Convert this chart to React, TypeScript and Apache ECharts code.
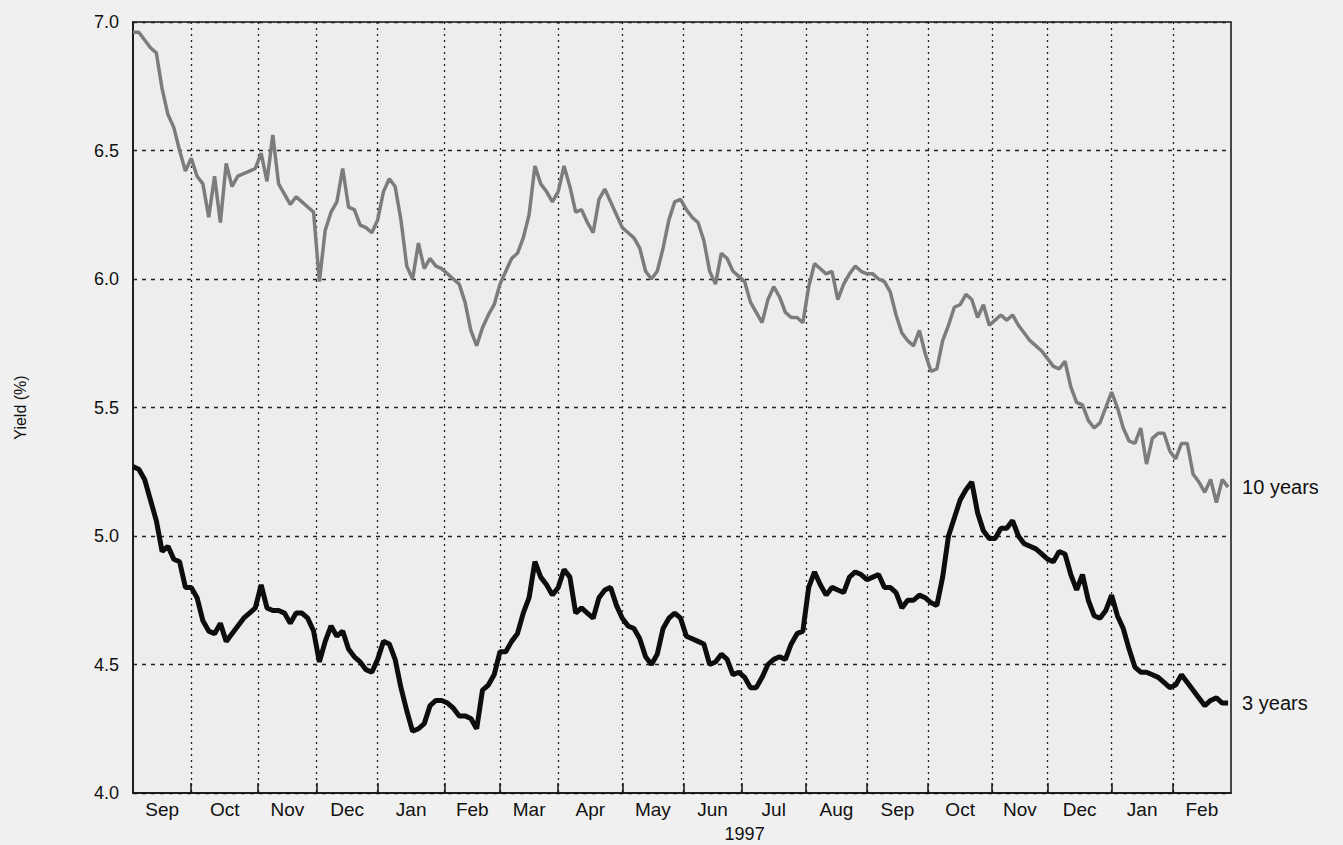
import React, { useEffect, useRef } from "react";
import * as echarts from "echarts";

// x axis unit: trading days since the start of the chart (early Sep 1996)
const SAMPLE_STEP = 2;
const X_MIN = 0;
const X_MAX = 377;

// first trading day of each month (Oct 1996 ... Feb 1998)
const monthStarts = [20, 43, 63, 84, 107, 126, 146, 168, 189, 209, 231, 252, 273, 295, 314, 336, 357];
const monthNames = ["Sep", "Oct", "Nov", "Dec", "Jan", "Feb", "Mar", "Apr", "May", "Jun", "Jul", "Aug", "Sep", "Oct", "Nov", "Dec", "Jan", "Feb"];
const yearLabel = "1997";
const yearSpan = [84, 336];

const Y_MIN = 4;
const Y_MAX = 7;
const Y_INTERVAL = 0.5;

// yields (%) read every 2 trading days
const tenYear = [
  6.96, 6.96, 6.93, 6.90, 6.88, 6.74, 6.64, 6.59, 6.50, 6.42, 6.47, 6.40, 6.37, 6.24, 6.40, 6.22,
  6.45, 6.36, 6.40, 6.41, 6.42, 6.43, 6.49, 6.38, 6.56, 6.37, 6.33, 6.29, 6.32, 6.30, 6.28, 6.26,
  5.99, 6.19, 6.26, 6.30, 6.43, 6.28, 6.27, 6.21, 6.20, 6.18, 6.23, 6.34, 6.39, 6.36, 6.23, 6.05,
  6.00, 6.14, 6.04, 6.08, 6.05, 6.04, 6.02, 6.00, 5.98, 5.91, 5.80, 5.74, 5.81, 5.86, 5.90, 5.98,
  6.03, 6.08, 6.10, 6.16, 6.25, 6.44, 6.37, 6.34, 6.30, 6.34, 6.44, 6.36, 6.26, 6.27, 6.22, 6.18,
  6.31, 6.35, 6.30, 6.25, 6.20, 6.18, 6.16, 6.12, 6.03, 6.00, 6.03, 6.12, 6.23, 6.30, 6.31, 6.27,
  6.24, 6.22, 6.15, 6.03, 5.98, 6.10, 6.08, 6.03, 6.01, 5.99, 5.91, 5.87, 5.83, 5.92, 5.97, 5.93,
  5.87, 5.85, 5.85, 5.83, 5.97, 6.06, 6.04, 6.02, 6.03, 5.92, 5.98, 6.02, 6.05, 6.03, 6.02,
  6.02, 6.00, 5.99, 5.95, 5.86, 5.79, 5.76, 5.74, 5.80, 5.71, 5.64, 5.65, 5.76, 5.82, 5.89, 5.90,
  5.94, 5.92, 5.85, 5.90, 5.82, 5.84, 5.86, 5.84, 5.86, 5.82, 5.79, 5.76, 5.74, 5.72, 5.69, 5.66,
  5.65, 5.68, 5.58, 5.52, 5.51, 5.45, 5.42, 5.44, 5.50, 5.56, 5.50, 5.42, 5.37, 5.36, 5.42, 5.28,
  5.38, 5.40, 5.40, 5.33, 5.30, 5.36, 5.36, 5.24, 5.21, 5.17, 5.22, 5.13, 5.22, 5.19,
];

const threeYear = [
  5.27, 5.26, 5.22, 5.14, 5.06, 4.94, 4.96, 4.91, 4.90, 4.80, 4.80, 4.76, 4.67, 4.63, 4.62, 4.66,
  4.59, 4.62, 4.65, 4.68, 4.70, 4.72, 4.81, 4.72, 4.71, 4.71, 4.70, 4.66, 4.70, 4.70, 4.68, 4.63,
  4.51, 4.59, 4.65, 4.61, 4.63, 4.56, 4.53, 4.51, 4.48, 4.47, 4.52, 4.59, 4.58, 4.52, 4.41, 4.32,
  4.24, 4.25, 4.27, 4.34, 4.36, 4.36, 4.35, 4.33, 4.30, 4.30, 4.29, 4.25, 4.40, 4.42, 4.46, 4.55,
  4.55, 4.59, 4.62, 4.70, 4.76, 4.90, 4.84, 4.81, 4.77, 4.80, 4.87, 4.84, 4.70, 4.72, 4.70, 4.68,
  4.76, 4.79, 4.80, 4.73, 4.68, 4.65, 4.64, 4.60, 4.53, 4.50, 4.54, 4.64, 4.68, 4.70, 4.68, 4.61,
  4.60, 4.59, 4.58, 4.50, 4.51, 4.54, 4.52, 4.46, 4.47, 4.45, 4.41, 4.41, 4.45, 4.50, 4.52, 4.53,
  4.52, 4.58, 4.62, 4.63, 4.80, 4.86, 4.81, 4.77, 4.80, 4.79, 4.78, 4.84, 4.86, 4.85, 4.83,
  4.84, 4.85, 4.80, 4.80, 4.78, 4.72, 4.75, 4.75, 4.77, 4.76, 4.74, 4.73, 4.84, 5.00, 5.07, 5.14,
  5.18, 5.21, 5.09, 5.02, 4.99, 4.99, 5.03, 5.03, 5.06, 5.00, 4.97, 4.96, 4.95, 4.93, 4.91, 4.90,
  4.94, 4.93, 4.85, 4.79, 4.85, 4.75, 4.69, 4.68, 4.71, 4.77, 4.69, 4.64, 4.56, 4.49, 4.47, 4.47,
  4.46, 4.45, 4.43, 4.41, 4.42, 4.46, 4.43, 4.40, 4.37, 4.34, 4.36, 4.37, 4.35, 4.35,
];

const FONT = "'Liberation Sans', Arial, Helvetica, sans-serif";

export default function App() {
  const ref = useRef<HTMLDivElement>(null);

  useEffect(() => {
    if (!ref.current) return;
    const chart = echarts.init(ref.current, null, { renderer: "svg" });

    const bounds = [X_MIN, ...monthStarts, X_MAX];
    const mids = bounds.slice(0, -1).map((b, i) => (b + bounds[i + 1]) / 2);

    const toData = (arr: number[]) => arr.map((v, i) => [i * SAMPLE_STEP, v]);

    const option: any = {
      animation: false,
      backgroundColor: "#f0f0f0",
      grid: {
        left: 133,
        right: 112,
        top: 22,
        bottom: 52,
        show: true,
        backgroundColor: "#ededed",
        borderColor: "#111",
        borderWidth: 1.5,
      },
      xAxis: {
        type: "value",
        min: X_MIN,
        max: X_MAX,
        axisLine: { show: true, onZero: false, lineStyle: { color: "#111", width: 1.5 } },
        axisTick: {
          show: true,
          inside: true,
          length: 10,
          customValues: monthStarts,
          lineStyle: { color: "#111", width: 1.5 },
        },
        splitLine: {
          show: true,
          lineStyle: { color: "#222", width: 1.3, type: [2, 4] },
        },
        axisLabel: {
          customValues: mids,
          margin: 7,
          color: "#111",
          fontSize: 19,
          fontFamily: FONT,
          formatter: (v: number) => {
            const i = mids.findIndex((m) => Math.abs(m - v) < 0.01);
            return i >= 0 ? monthNames[i] : "";
          },
        },
      },
      yAxis: {
        type: "value",
        min: Y_MIN,
        max: Y_MAX,
        interval: Y_INTERVAL,
        name: "Yield (%)",
        nameLocation: "middle",
        nameGap: 105,
        nameTextStyle: { color: "#111", fontSize: 16, fontFamily: FONT },
        axisLine: { show: true, lineStyle: { color: "#111", width: 1.5 } },
        axisTick: { show: false },
        splitLine: {
          show: true,
          lineStyle: { color: "#222", width: 1.3, type: [4, 5] },
        },
        axisLabel: {
          margin: 14,
          color: "#111",
          fontSize: 18,
          fontFamily: FONT,
          formatter: (v: number) => v.toFixed(1),
        },
      },
      series: [
        {
          name: "10 years",
          type: "line",
          data: toData(tenYear),
          showSymbol: false,
          symbol: "none",
          lineStyle: { color: "#7c7c7c", width: 3.5 },
          endLabel: {
            show: true,
            formatter: "{a}",
            distance: 14,
            color: "#111",
            fontSize: 20,
            fontFamily: FONT,
          },
          z: 3,
        },
        {
          name: "3 years",
          type: "line",
          data: toData(threeYear),
          showSymbol: false,
          symbol: "none",
          lineStyle: { color: "#0d0d0d", width: 5 },
          endLabel: {
            show: true,
            formatter: "{a}",
            distance: 14,
            color: "#111",
            fontSize: 20,
            fontFamily: FONT,
          },
          z: 4,
        },
      ],
    };

    chart.setOption(option);

    const yearMid = (yearSpan[0] + yearSpan[1]) / 2;
    const px = chart.convertToPixel({ xAxisIndex: 0 }, yearMid) as number;
    chart.setOption({
      graphic: [
        {
          type: "text",
          x: px,
          y: 834,
          style: {
            text: yearLabel,
            align: "center",
            verticalAlign: "middle",
            fill: "#111",
            fontSize: 18,
            fontFamily: FONT,
          },
        },
      ],
    });

    return () => chart.dispose();
  }, []);

  return (
    <div
      ref={ref}
      style={{ position: "absolute", left: 0, top: 0, width: 1343, height: 845 }}
    />
  );
}
